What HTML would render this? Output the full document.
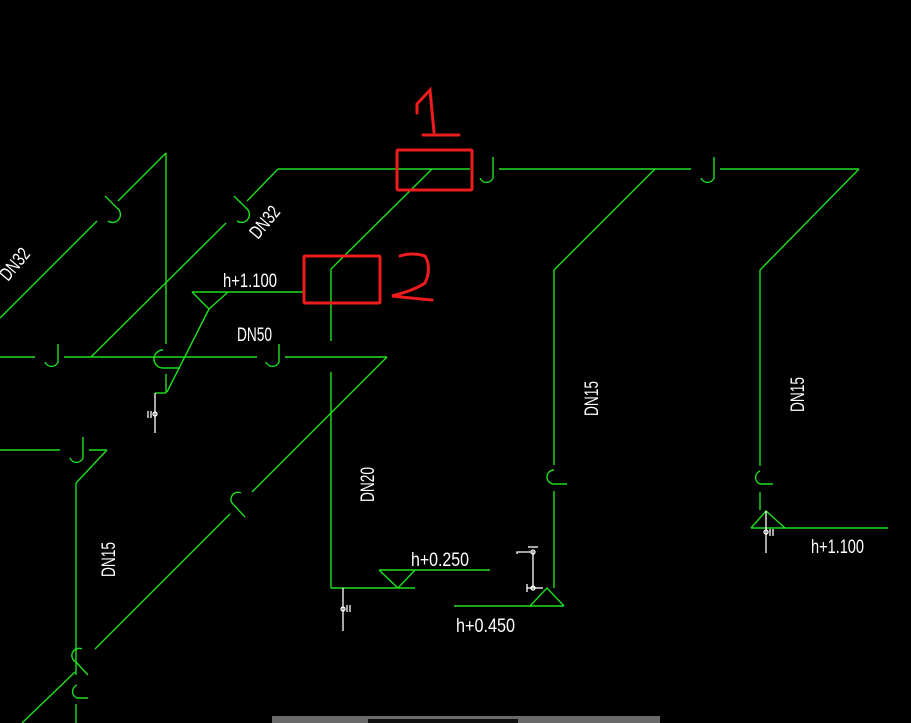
<!DOCTYPE html>
<html><head><meta charset="utf-8"><style>
html,body{margin:0;padding:0;background:#000;width:911px;height:723px;overflow:hidden}
svg{display:block}
text{font-family:"Liberation Sans",sans-serif;fill:#fff;font-size:19px}
</style></head><body>
<svg width="911" height="723" viewBox="0 0 911 723" xmlns="http://www.w3.org/2000/svg">
<g stroke="#1ee01e" stroke-width="1.4" fill="none">
<line x1="278" y1="169" x2="470" y2="169"/>
<line x1="499" y1="169" x2="691" y2="169"/>
<line x1="720" y1="169" x2="859" y2="169"/>
<path d="M493 157 V178 A7 7 0 0 1 480 178"/>
<path d="M714 157 V178 A7 7 0 0 1 701 178"/>
<line x1="278" y1="169" x2="247" y2="201"/>
<path d="M234 196 L246 208 A7 7 0 0 1 237 221"/>
<line x1="226" y1="223" x2="91" y2="357"/>
<line x1="432" y1="169" x2="331" y2="269"/>
<line x1="331" y1="269" x2="331" y2="341"/>
<line x1="331" y1="372" x2="331" y2="588"/>
<line x1="331" y1="588" x2="415" y2="588"/>
<line x1="379" y1="570" x2="490" y2="570"/>
<path d="M379 570 L398 588 L415 570"/>
<line x1="655" y1="169" x2="554" y2="270"/>
<line x1="554" y1="270" x2="554" y2="465"/>
<path d="M554 470 A7 7 0 0 0 554 484 H567"/>
<line x1="554" y1="491" x2="554" y2="588"/>
<path d="M530 606 L547 588 L564 606"/>
<line x1="454" y1="606" x2="564" y2="606"/>
<line x1="859" y1="169" x2="760" y2="270"/>
<line x1="760" y1="270" x2="760" y2="466"/>
<path d="M760 471 A7 7 0 0 0 760 484 H773"/>
<line x1="760" y1="492" x2="760" y2="510"/>
<path d="M751 528 L766 511 L785 528"/>
<line x1="751" y1="528" x2="888" y2="528"/>
<line x1="166" y1="153" x2="118" y2="201"/>
<path d="M105 196 L117 208 A7 7 0 0 1 108 221"/>
<line x1="97" y1="221" x2="0" y2="318"/>
<line x1="166" y1="153" x2="166" y2="344"/>
<line x1="0" y1="357" x2="35" y2="357"/>
<path d="M58 344 V362 A7 7 0 0 1 45 362"/>
<line x1="64" y1="357" x2="257" y2="357"/>
<path d="M163 350 A7 7 0 0 0 163 368 H180"/>
<path d="M279 344 V362 A7 7 0 0 1 266 362"/>
<line x1="285" y1="357" x2="387" y2="357"/>
<line x1="166" y1="374" x2="166" y2="393"/>
<line x1="155" y1="393" x2="166" y2="393"/>
<line x1="209" y1="309" x2="167" y2="392"/>
<path d="M192 292 L209 309 L228 292"/>
<line x1="192" y1="292" x2="303" y2="292"/>
<line x1="387" y1="357" x2="252" y2="492"/>
<path d="M245 517 L232 503 A7 7 0 0 1 241 493"/>
<line x1="230" y1="514" x2="95" y2="649"/>
<path d="M88 675 L76 662 A7 7 0 0 1 82 649"/>
<line x1="75" y1="672" x2="22" y2="723"/>
<line x1="0" y1="450" x2="60" y2="450"/>
<path d="M83 437 V458 A7 7 0 0 1 70 458"/>
<line x1="89" y1="450" x2="107" y2="450"/>
<line x1="107" y1="450" x2="76" y2="483"/>
<line x1="76" y1="483" x2="76" y2="675"/>
<path d="M77 685 A7 7 0 0 0 77 698 H88"/>
<line x1="76" y1="704" x2="76" y2="723"/>
</g>
<g stroke="#fff" stroke-width="1.3" fill="none">
<line x1="155" y1="393" x2="155" y2="433"/>
<circle cx="155" cy="414" r="2"/><line x1="148" y1="411" x2="148" y2="418"/><line x1="151" y1="411" x2="151" y2="418"/>
<line x1="343" y1="588" x2="343" y2="631"/>
<circle cx="343" cy="609" r="2"/><line x1="347" y1="605" x2="347" y2="612"/><line x1="350" y1="605" x2="350" y2="612"/>
<line x1="533" y1="551" x2="533" y2="588"/>
<line x1="528" y1="547" x2="538" y2="547"/>
<circle cx="533" cy="552" r="2"/><path d="M517 554 V552 H531"/>
<circle cx="533" cy="588" r="2"/><line x1="527" y1="584" x2="527" y2="592"/><line x1="527" y1="588" x2="543" y2="588"/>
<line x1="766" y1="511" x2="766" y2="553"/>
<circle cx="766" cy="532" r="2"/><line x1="770" y1="529" x2="770" y2="536"/><line x1="773" y1="529" x2="773" y2="536"/>
</g>
<text x="223" y="287" textLength="54" lengthAdjust="spacingAndGlyphs">h+1.100</text>
<text x="237" y="341" textLength="35" lengthAdjust="spacingAndGlyphs">DN50</text>
<text x="411" y="566" textLength="58" lengthAdjust="spacingAndGlyphs">h+0.250</text>
<text x="456" y="632" textLength="59" lengthAdjust="spacingAndGlyphs">h+0.450</text>
<text x="811" y="553" textLength="53" lengthAdjust="spacingAndGlyphs">h+1.100</text>
<text transform="translate(8,282) rotate(-50)" textLength="36" lengthAdjust="spacingAndGlyphs">DN32</text>
<text transform="translate(258,240) rotate(-50)" textLength="36" lengthAdjust="spacingAndGlyphs">DN32</text>
<text transform="translate(374,502) rotate(-90)" textLength="35" lengthAdjust="spacingAndGlyphs">DN20</text>
<text transform="translate(598,416) rotate(-90)" textLength="35" lengthAdjust="spacingAndGlyphs">DN15</text>
<text transform="translate(804,412) rotate(-90)" textLength="35" lengthAdjust="spacingAndGlyphs">DN15</text>
<text transform="translate(115,577) rotate(-90)" textLength="35" lengthAdjust="spacingAndGlyphs">DN15</text>
<g stroke="#ee1c1c" stroke-width="3" fill="none" stroke-linecap="round">
<rect x="397" y="150" width="75" height="40" rx="1"/>
<rect x="304" y="256" width="76" height="47" rx="1"/>
<path d="M417 113 V104 L430 90 L434 132"/>
<path d="M423 135 H459"/>
<path d="M400 256 Q412 252 425 256 Q432 268 425 283 Q415 290 392 296 Q410 298 432 300"/>
</g>
<rect x="272" y="716" width="388" height="7" fill="#6a6a6a"/>
<rect x="368" y="719" width="150" height="4" fill="#111"/>
</svg>
</body></html>
